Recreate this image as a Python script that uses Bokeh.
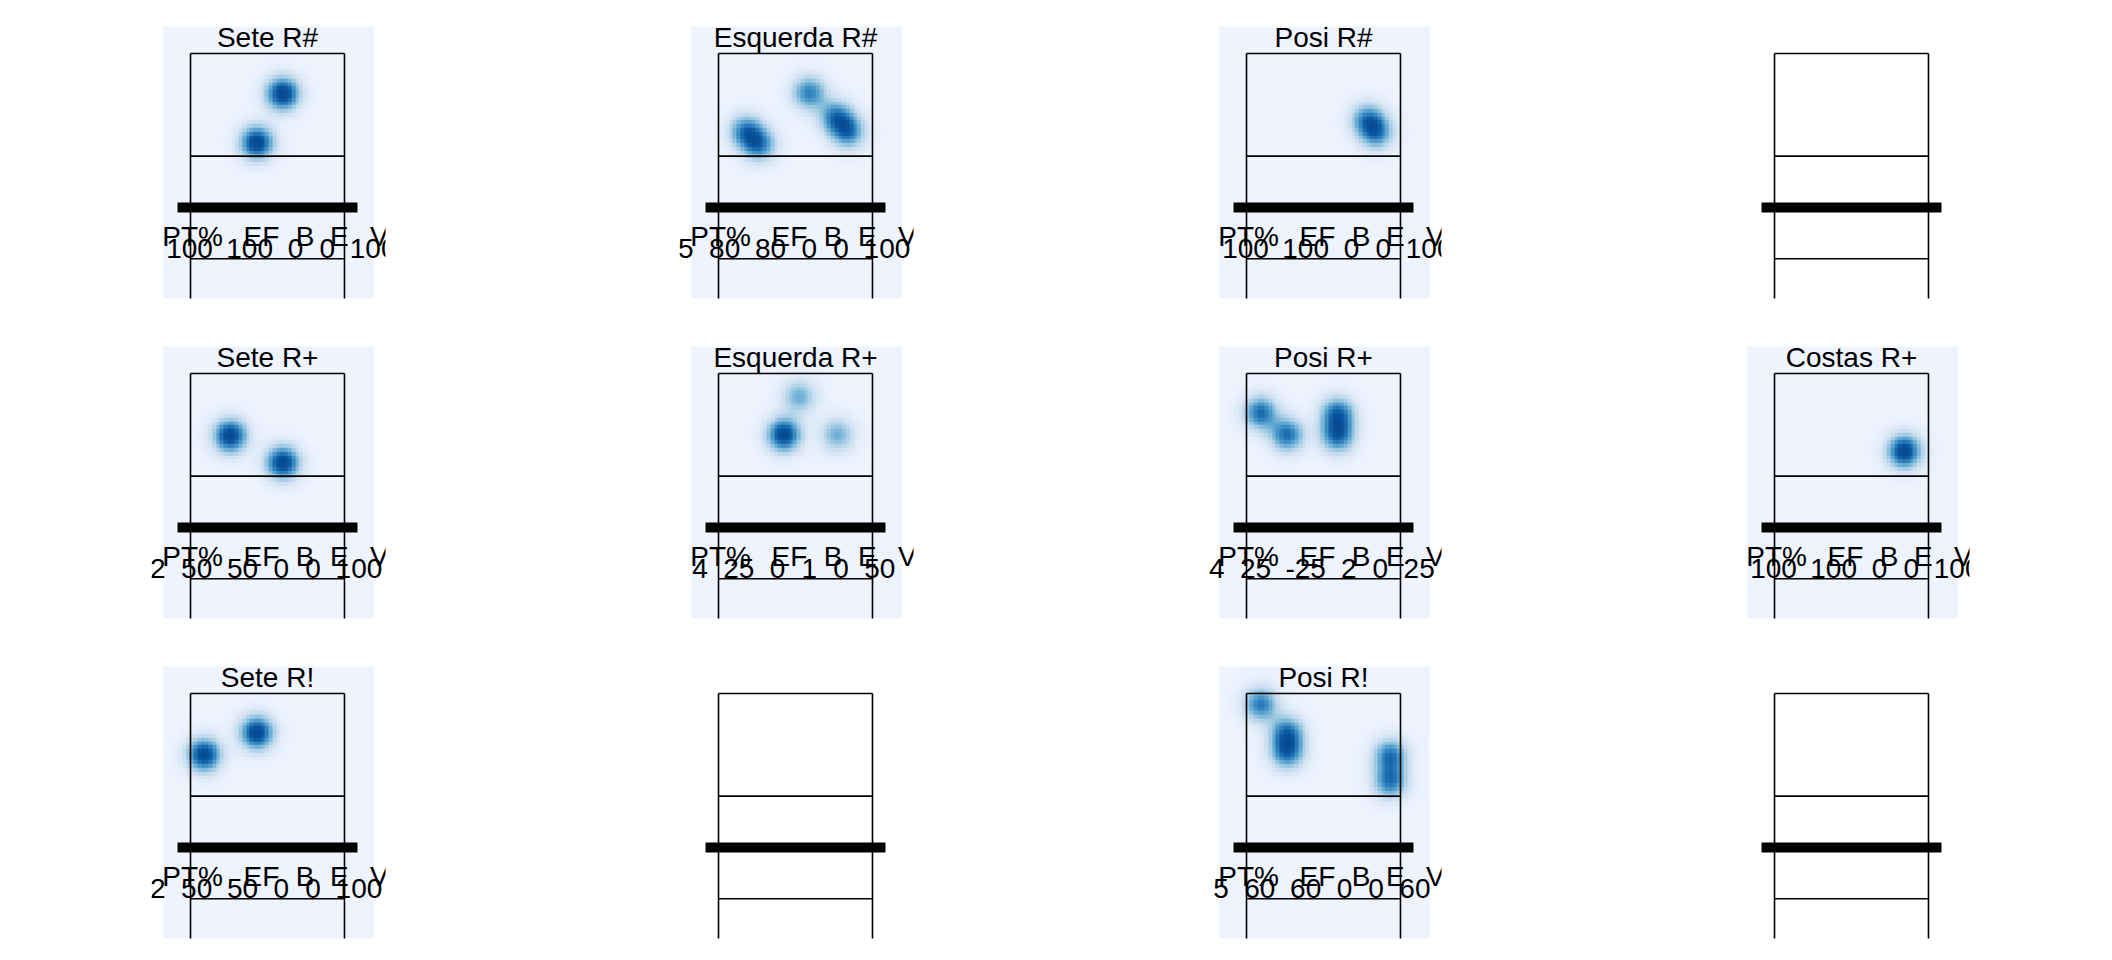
import numpy as np
from bokeh.plotting import figure
from bokeh.layouts import gridplot
from bokeh.models import Range1d, LinearColorMapper
from bokeh.core.properties import value
from bokeh.embed import file_html
from bokeh.resources import INLINE

# ---------------- data ----------------
panel_titles = ["Sete R#", "Esquerda R#", "Posi R#", "",
                "Sete R+", "Esquerda R+", "Posi R+", "Costas R+",
                "Sete R!", "", "Posi R!", ""]
stat_headers = ["PT%", "EF", "B", "E", "V"]
n_attacks = [2, 5, 2, None, 2, 4, 4, 1, 2, None, 5, None]
pt_pct    = [100, 80, 100, None, 50, 25, 25, 100, 50, None, 60, None]
eff       = [100, 80, 100, None, 50, 0, -25, 100, 50, None, 60, None]
blocked   = [0, 0, 0, None, 0, 1, 2, 0, 0, None, 0, None]
errors    = [0, 0, 0, None, 0, 0, 0, 0, 0, None, 0, None]
v_pct     = [100, 100, 100, None, 100, 50, 25, 100, 100, None, 60, None]

# attack end locations (datavolley court units)
end_x = [[2.29, 1.79],
         [2.26, 2.78, 3.02, 1.03, 1.29],
         [2.85, 3.03],
         [],
         [1.27, 2.29],
         [2.07, 1.77, 1.77, 2.81],
         [0.77, 1.29, 2.27, 2.27],
         [3.02],
         [1.79, 0.76],
         [],
         [0.77, 1.29, 1.29, 3.29, 3.29],
         []]
end_y = [[5.70, 4.75],
         [5.72, 5.25, 4.96, 4.97, 4.71],
         [5.20, 4.94],
         [],
         [5.27, 4.75],
         [6.03, 5.29, 5.29, 5.29],
         [5.72, 5.29, 5.70, 5.27],
         [4.97],
         [5.72, 5.29],
         [],
         [6.27, 5.72, 5.33, 5.28, 4.77],
         []]

# ---------------- styling / layout ----------------
FONT = value("Liberation Sans")
anchors = ["#EEF3FE", "#DCE9F7", "#C6DBEF", "#9ECAE1", "#6BAED6",
           "#4292C6", "#2171B5", "#0B559F", "#084A94"]

def hex2rgb(h):
    return np.array([int(h[i:i + 2], 16) for i in (1, 3, 5)], dtype=float)

anc_rgb = np.array([hex2rgb(c) for c in anchors])
pos = np.linspace(0, 1, len(anchors))
palette = []
for t in np.linspace(0, 1, 256):
    rgb = [np.interp(t, pos, anc_rgb[:, k]) for k in range(3)]
    palette.append("#%02x%02x%02x" % tuple(int(round(c)) for c in rgb))
mapper = LinearColorMapper(palette=palette, low=0, high=1)

PXU = 51.33                      # pixels per court unit
HX0, HX1, HY0, HY1 = -0.03, 4.07, 1.727, 7.026
NX, NY = 56, 72
SIG = 0.23
cx = HX0 + (np.arange(NX) + 0.5) * (HX1 - HX0) / NX
cy = HY0 + (np.arange(NY) + 0.5) * (HY1 - HY0) / NY
GX, GY = np.meshgrid(cx, cy)

header_x = [0.54, 1.88, 2.73, 3.40, 4.18]
TITLE_Y, HEADER_Y, NUM_Y = 6.812, 2.935, 2.701
DIGIT_W, MINUS_W, GAP_W = 14.2 / PXU, 8.5 / PXU, 17.5 / PXU
NUM_CX = 1.961


def token_layout(tokens):
    widths = [sum(MINUS_W if ch == "-" else DIGIT_W for ch in t) for t in tokens]
    total = sum(widths) + GAP_W * (len(tokens) - 1)
    xs, cur = [], NUM_CX - total / 2
    for w in widths:
        xs.append(cur + w / 2)
        cur += w + GAP_W
    return xs


figs = []
for i in range(12):
    p = figure(width=528, height=320, title=None,
               x_range=Range1d(-0.26, 4.299), y_range=Range1d(1.727, 7.143),
               output_backend="svg", toolbar_location=None, tools="",
               x_axis_location=None, y_axis_location=None,
               min_border_left=151, min_border_right=143,
               min_border_top=20, min_border_bottom=22,
               outline_line_color=None, background_fill_color="white",
               border_fill_color="white")
    p.grid.grid_line_color = None

    if panel_titles[i]:
        dens = np.zeros_like(GX)
        for px_, py_ in zip(end_x[i], end_y[i]):
            dens += np.exp(-((GX - px_) ** 2 + (GY - py_) ** 2) / (2 * SIG ** 2))
        if dens.max() > 0:
            dens = dens / dens.max()
        p.image(image=[dens], x=HX0, y=HY0, dw=HX1 - HX0, dh=HY1 - HY0,
                color_mapper=mapper)

    # court
    p.segment(x0=[0.5, 0.5, 3.5, 0.5, 0.5], y0=[6.5, 6.5, 6.5, 4.5, 2.5],
              x1=[3.5, 0.5, 3.5, 3.5, 3.5], y1=[6.5, 0.5, 0.5, 4.5, 2.5],
              line_color="black", line_width=1.6)
    p.segment(x0=[0.247], y0=[3.5], x1=[3.753], y1=[3.5],
              line_color="black", line_width=10, line_cap="butt")

    if panel_titles[i]:
        p.text(x=[2.0], y=[TITLE_Y], text=[panel_titles[i]], text_align="center",
               text_baseline="alphabetic", text_font=FONT,
               text_font_size="28px", text_color="black")
        p.text(x=header_x, y=[HEADER_Y] * 5, text=stat_headers, text_align="center",
               text_baseline="alphabetic", text_font=FONT,
               text_font_size="28px", text_color="black")
        tokens = [str(v) for v in [n_attacks[i], pt_pct[i], eff[i],
                                   blocked[i], errors[i], v_pct[i]]]
        p.text(x=token_layout(tokens), y=[NUM_Y] * len(tokens), text=tokens,
               text_align="center", text_baseline="alphabetic", text_font=FONT,
               text_font_size="28px", text_color="black")
    figs.append(p)

grid = gridplot(figs, ncols=4, toolbar_location=None)
open("out.html", "w").write(file_html(grid, INLINE))
